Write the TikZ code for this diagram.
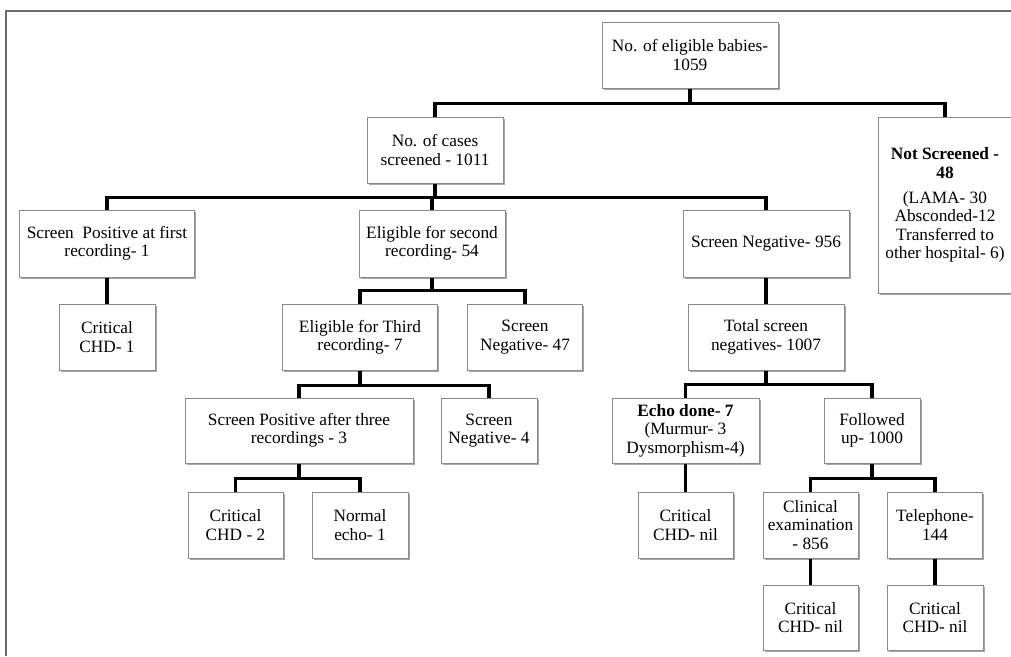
\documentclass[tikz,border=0pt]{standalone}
\usepackage{fontspec}
\setmainfont{Liberation Serif}
\usetikzlibrary{shadows}
\definecolor{boxline}{HTML}{8A8A8A}
\definecolor{framecol}{HTML}{6A6A6A}
\begin{document}
\begin{tikzpicture}[x=1pt,y=-1pt,
  bx/.style={draw=boxline, line width=1pt, fill=white, align=center, inner sep=0pt,
    font=\fontsize{17.3}{18.4}\selectfont,
    drop shadow={shadow xshift=1.5pt, shadow yshift=-2pt, fill=black, opacity=0.35}},
  conn/.style={draw=black, line width=3.8pt, line join=miter}]
\useasboundingbox (0,0) rectangle (1011,656);
\draw[framecol, line width=1.6pt] (6,656) -- (6,11) -- (1011,11);

% nodes
\node[bx, minimum width=176pt, minimum height=66pt] (A) at (690,55) {No. of eligible babies-\\1059};
\node[bx, minimum width=136pt, minimum height=66pt] (B) at (435,150) {No. of cases\\screened - 1011};
\node[bx, minimum width=134pt, minimum height=176pt] (C) at (945,205) {\textbf{Not Screened -}\\\textbf{48}\\[7pt](LAMA- 30\\Absconded-12\\Transferred to\\other hospital- 6)};

\node[bx, minimum width=175pt, minimum height=67pt] (D) at (107,243.5) {Screen\ \ Positive at first\\recording- 1};
\node[bx, minimum width=146pt, minimum height=67pt] (E) at (432,243.5) {Eligible for second\\recording- 54};
\node[bx, minimum width=166pt, minimum height=67pt] (M) at (766,243.5) {Screen Negative- 956};

\node[bx, minimum width=96pt, minimum height=66pt] (F) at (107,337) {Critical\\CHD- 1};
\node[bx, minimum width=155pt, minimum height=66pt] (G) at (360,337) {Eligible for Third\\recording- 7};
\node[bx, minimum width=115pt, minimum height=66pt] (H) at (525,337) {Screen\\Negative- 47};
\node[bx, minimum width=156pt, minimum height=66pt] (N) at (766,337) {Total screen\\negatives- 1007};

\node[bx, minimum width=228pt, minimum height=65pt] (I) at (299,430.5) {Screen Positive after three\\recordings - 3};
\node[bx, minimum width=96pt, minimum height=65pt] (J) at (489,430.5) {Screen\\Negative- 4};
\node[bx, minimum width=147pt, minimum height=65pt] (O) at (685.5,430.5) {\textbf{Echo done- 7}\\(Murmur- 3\\Dysmorphism-4)};
\node[bx, minimum width=96pt, minimum height=65pt] (P) at (872,430.5) {Followed\\up- 1000};

\node[bx, minimum width=95pt, minimum height=66pt] (K) at (235.5,525) {Critical\\CHD - 2};
\node[bx, minimum width=96pt, minimum height=66pt] (L) at (360,525) {Normal\\echo- 1};
\node[bx, minimum width=95pt, minimum height=66pt] (Q) at (685.5,525) {Critical\\CHD- nil};
\node[bx, minimum width=95pt, minimum height=66pt] (R) at (810.5,525) {Clinical\\examination\\- 856};
\node[bx, minimum width=95pt, minimum height=66pt] (S) at (935,525) {Telephone-\\144};

\node[bx, minimum width=95pt, minimum height=65pt] (T) at (810.5,617.5) {Critical\\CHD- nil};
\node[bx, minimum width=96pt, minimum height=65pt] (U) at (935,617.5) {Critical\\CHD- nil};

% connectors
\draw[conn] (A.south) -- ++(0,15) coordinate (a1);
\draw[conn] (B.north) |- (a1);
\draw[conn] (C.north) |- (a1);

\draw[conn] (B.south) -- ++(0,14) coordinate (b1);
\draw[conn] (D.north) |- (b1);
\draw[conn] (E.north) |- (b1);
\draw[conn] (M.north) |- (b1);

\draw[conn] (D.south) -- (F.north);
\draw[conn] (M.south) -- (N.north);

\draw[conn] (E.south) -- ++(0,13) coordinate (e1);
\draw[conn] (G.north) |- (e1);
\draw[conn] (H.north) |- (e1);

\draw[conn] (G.south) -- ++(0,15) coordinate (g1);
\draw[conn] (I.north) |- (g1);
\draw[conn] (J.north) |- (g1);

\draw[conn] (N.south) -- ++(0,14) coordinate (n1);
\draw[conn] (O.north) |- (n1);
\draw[conn] (P.north) |- (n1);

\draw[conn] (I.south) -- ++(0,15) coordinate (i1);
\draw[conn] (K.north) |- (i1);
\draw[conn] (L.north) |- (i1);

\draw[conn] (O.south) -- (Q.north);

\draw[conn] (P.south) -- ++(0,15) coordinate (p1);
\draw[conn] (R.north) |- (p1);
\draw[conn] (S.north) |- (p1);

\draw[conn] (R.south) -- (T.north);
\draw[conn] (S.south) -- (U.north);
\end{tikzpicture}
\end{document}
